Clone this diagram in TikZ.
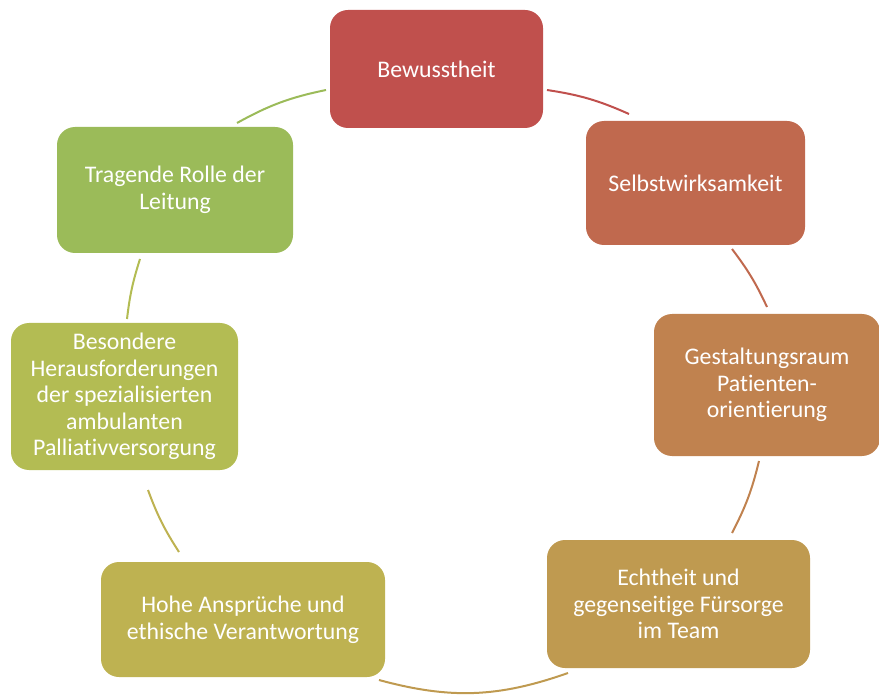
\documentclass[tikz,border=0pt]{standalone}
\usepackage{fontspec}
\setmainfont{Carlito}[Ligatures=NoCommon]
\usepackage{tikz}
\usetikzlibrary{positioning}
\usetikzlibrary{calc}

\definecolor{cBew}{HTML}{C0504D}
\definecolor{cSelb}{HTML}{C0694E}
\definecolor{cGest}{HTML}{C0824F}
\definecolor{cEcht}{HTML}{BF9A50}
\definecolor{cHohe}{HTML}{BEB251}
\definecolor{cBes}{HTML}{B3BC53}
\definecolor{cTrag}{HTML}{9BBB59}

\begin{document}
\begin{tikzpicture}[
  x=1pt, y=-1pt,
  font=\fontsize{23.8}{26.6}\selectfont,
  cyclebox/.style={rounded corners=18pt, align=center, text=white, inner sep=0pt},
  link/.style={line width=2pt}
]
\useasboundingbox (0,0) rectangle (879,695);

\node[cyclebox, fill=cBew, minimum width=213pt, minimum height=118pt] (bew) at (436.5,69) {Bewusstheit};
\node[cyclebox, fill=cSelb, minimum width=219pt, minimum height=124pt] (selb) at (695.5,183) {Selbstwirksamkeit};
\node[cyclebox, fill=cGest, minimum width=226pt, minimum height=142pt] (gest) at (767,385) {Gestaltungsraum\\Patienten-\\orientierung};
\node[cyclebox, fill=cEcht, minimum width=263pt, minimum height=128pt] (echt) at (678.5,604) {Echtheit und\\gegenseitige Fürsorge\\im Team};
\node[cyclebox, fill=cHohe, minimum width=284pt, minimum height=115pt] (hohe) at (243,619.5) {Hohe Ansprüche und\\ethische Verantwortung};
\node[cyclebox, fill=cBes, minimum width=227pt, minimum height=147pt] (bes) at (124.5,396.5) {Besondere\\Herausforderungen\\der spezialisierten\\ambulanten\\Palliativversorgung};
\node[cyclebox, fill=cTrag, minimum width=236pt, minimum height=126pt] (trag) at (175,190) {Tragende Rolle der\\Leitung};

% arc ends
\coordinate (bewR) at (547,90);
\coordinate (selbL) at (629,114);
\coordinate (selbB) at (732,249);
\coordinate (gestT) at (767,307);
\coordinate (gestB) at (759,461);
\coordinate (echtT) at (732,533);
\coordinate (echtB) at (568,673);
\coordinate (hoheB) at (379,680);
\coordinate (hoheT) at (179,552);
\coordinate (besB) at (148,490);
\coordinate (besT) at (127,319);
\coordinate (tragB) at (140,259);
\coordinate (tragT) at (237,123);
\coordinate (bewL) at (326,90);

\draw[link, cBew] (bewR) to[bend left=7.7] (selbL);
\draw[link, cSelb] (selbB) to[bend left=6.1] (gestT);
\draw[link, cGest] (gestB) to[bend left=6.9] (echtT);
\draw[link, cEcht] (echtB) to[bend left=17.3] (hoheB);
\draw[link, cHohe] (hoheT) to[bend left=6.3] (besB);
\draw[link, cBes] (besT) to[bend left=5.5] (tragB);
\draw[link, cTrag] (tragT) to[bend left=8.6] (bewL);

\end{tikzpicture}
\end{document}
